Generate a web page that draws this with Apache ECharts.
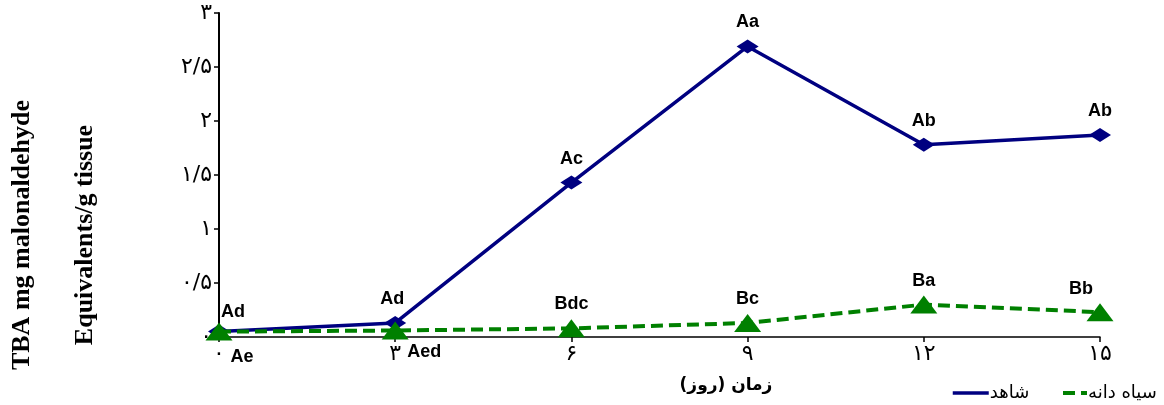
<!DOCTYPE html>
<html>
<head>
<meta charset="utf-8">
<script src="https://cdn.jsdelivr.net/npm/echarts@6/dist/echarts.min.js"></script>
<style>
  html, body { margin: 0; padding: 0; background: #fff; }
  #chart { width: 1164px; height: 405px; }
</style>
</head>
<body>
<div id="chart"></div>
<script>
// ---- data ----
const days = [0, 3, 6, 9, 12, 15];
const controlName = 'شاهد';
const blackSeedName = 'سیاه دانه';
const controlValues = [0.05, 0.13, 1.43, 2.69, 1.78, 1.87];
const blackSeedValues = [0.05, 0.06, 0.08, 0.13, 0.30, 0.23];
const controlLetters = ['Ad', 'Ad', 'Ac', 'Aa', 'Ab', 'Ab'];
const blackSeedLetters = ['Ae', 'Aed', 'Bdc', 'Bc', 'Ba', 'Bb'];
const xAxisTitle = 'زمان (روز)';
const yAxisTitleLines = ['TBA mg malonaldehyde', 'Equivalents/g tissue'];

const faDigits = '۰۱۲۳۴۵۶۷۸۹';
function toFa(v) {
  return String(v).replace(/[0-9]/g, d => faDigits[+d]).replace('.', '/');
}

// label placement tweaks (style, not data)
const controlLabelCfg = [
  { offset: [14, 4] }, { offset: [-3, 0] }, {}, {}, {}, {}
];
const seedLabelCfg = [
  { position: 'bottom', offset: [23, 1] },
  { position: 'bottom', offset: [29, -2] },
  {}, {}, {}, { offset: [-19, 1] }
];

const labelFont = { fontFamily: 'Liberation Sans, Arial, sans-serif', fontWeight: 'bold', fontSize: 18, color: '#000' };

const controlData = days.map((d, i) => ({
  value: [d, controlValues[i]],
  label: Object.assign({ formatter: controlLetters[i] }, controlLabelCfg[i])
}));
const seedData = days.map((d, i) => ({
  value: [d, blackSeedValues[i]],
  label: Object.assign({ formatter: blackSeedLetters[i] }, seedLabelCfg[i])
}));

const legendBase = {
  top: 379, itemHeight: 4,
  textStyle: { color: '#000', fontSize: 18, fontFamily: 'DejaVu Sans, sans-serif', padding: [0, 0, 0, -4] },
  itemStyle: { opacity: 0 },
  lineStyle: { width: 'inherit' }
};

const chart = echarts.init(document.getElementById('chart'), null, { renderer: 'canvas' });
chart.setOption({
  animation: false,
  backgroundColor: '#fff',
  grid: { left: 219, right: 64, top: 13, bottom: 68 },
  xAxis: {
    type: 'value', min: 0, max: 15, interval: 3,
    axisLine: { show: true, onZero: false, lineStyle: { color: '#000', width: 1.5 } },
    axisTick: { show: true, length: 5, lineStyle: { color: '#000', width: 1.5 } },
    splitLine: { show: false },
    axisLabel: { formatter: v => toFa(v), color: '#000', fontSize: 22, margin: 6, fontFamily: 'DejaVu Sans, sans-serif' }
  },
  yAxis: {
    type: 'value', min: 0, max: 3, interval: 0.5,
    axisLine: { show: true, lineStyle: { color: '#000', width: 2 } },
    axisTick: { show: true, length: 5, lineStyle: { color: '#000', width: 1.5 } },
    splitLine: { show: false },
    axisLabel: { formatter: v => toFa(v), color: '#000', fontSize: 22, margin: 7, fontFamily: 'DejaVu Sans, sans-serif' }
  },
  legend: [
    Object.assign({ left: 946, itemWidth: 36, data: [controlName] }, legendBase),
    Object.assign({ left: 1056, itemWidth: 24, data: [blackSeedName] }, legendBase)
  ],
  series: [
    {
      name: controlName, type: 'line', data: controlData,
      symbol: 'diamond', symbolSize: [22, 14],
      lineStyle: { color: '#000080', width: 3.5 },
      itemStyle: { color: '#000080' },
      label: Object.assign({ show: true, position: 'top', distance: 8 }, labelFont),
      z: 3
    },
    {
      name: blackSeedName, type: 'line', data: seedData,
      symbol: 'triangle', symbolSize: [27, 18],
      lineStyle: { color: '#008000', width: 4, type: [12, 6] },
      itemStyle: { color: '#008000' },
      label: Object.assign({ show: true, position: 'top', distance: 6 }, labelFont),
      z: 4
    }
  ],
  graphic: [
    { type: 'text', x: 726, y: 386, style: { text: xAxisTitle, fill: '#000', font: 'bold 17px "DejaVu Sans", sans-serif', textAlign: 'center', textVerticalAlign: 'middle' } },
    { type: 'text', x: 22, y: 235, rotation: Math.PI / 2, style: { text: yAxisTitleLines[0], fill: '#000', font: 'bold 26px "Liberation Serif", "Times New Roman", serif', textAlign: 'center', textVerticalAlign: 'middle' } },
    { type: 'text', x: 85, y: 235, rotation: Math.PI / 2, style: { text: yAxisTitleLines[1], fill: '#000', font: 'bold 26px "Liberation Serif", "Times New Roman", serif', textAlign: 'center', textVerticalAlign: 'middle' } }
  ]
});
</script>
</body>
</html>
